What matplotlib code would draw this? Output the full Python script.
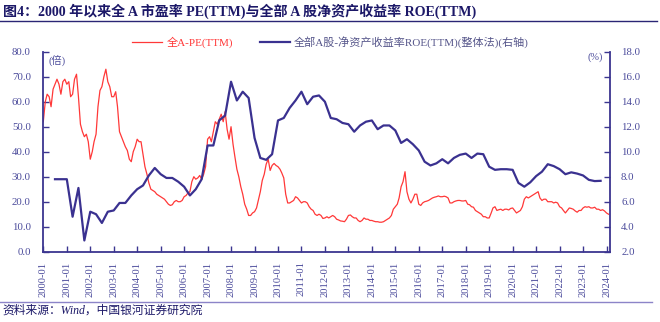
import matplotlib
matplotlib.use('Agg')
import matplotlib.pyplot as plt
import pandas as pd
from matplotlib.lines import Line2D

# ---------------- data ----------------
pe_start = '2000-01'   # monthly values, 全A-PE(TTM)
pe_values = [
    52, 60, 63, 62, 58, 65, 67, 69, 67, 63, 68, 69,            # 2000
    67, 68, 62, 63, 69, 71, 62, 51, 48, 46, 47, 44,            # 2001
    37, 40, 44, 47, 58, 64.5, 66, 70, 73, 68, 66, 62,          # 2002
    62, 64, 58, 48, 46, 44, 42, 40.5, 37, 36, 40, 42,          # 2003
    45, 44, 44, 39, 34, 31, 27.5, 25, 24.5, 24, 23, 22.5,      # 2004
    22, 21.5, 21, 20, 19, 18.5, 18.8, 20, 20.5, 20, 20, 20.5,  # 2005
    22, 22.5, 23.5, 24, 28, 30, 29, 29.5, 30.5, 29, 31, 34,    # 2006
    45, 46, 44, 48, 52, 51, 53, 55, 52, 56, 49, 45,            # 2007
    50, 43, 38, 33, 30, 26, 23, 19, 17, 14.5, 14.5, 15.5,      # 2008
    16, 17.5, 20.5, 24, 28.5, 31, 35, 37, 32.5, 34.5, 35.3, 34.5,  # 2009
    34, 33, 31.5, 29.5, 23, 19.5, 19.5, 20, 20.5, 22, 21.5, 20.5,  # 2010
    19.5, 20, 20, 19.5, 18, 17, 16.5, 15, 14.5, 15, 14.5, 13.3,    # 2011
    13.5, 14, 13.5, 14, 14.5, 14, 13, 12.7, 12.3, 12.2, 12, 13,    # 2012
    14.5, 14.7, 14, 13.5, 13.5, 12.5, 12, 12.5, 13.5, 13, 13, 12.5,  # 2013
    12.5, 12.2, 12, 12, 11.8, 11.8, 12, 12.5, 13, 13.5, 14.5, 17,  # 2014
    18, 19, 21.5, 26, 28, 32, 24, 21, 19.5, 21, 23, 23,            # 2015
    19, 18.5, 19.5, 20, 20.2, 20.5, 21, 21.5, 21.8, 22, 22.3, 22,  # 2016
    22, 22.2, 22, 21.5, 19.5, 19.5, 20, 20.3, 20.5, 20.5, 20.3, 20.3,  # 2017
    20.5, 19, 18.8, 18, 17.8, 16.5, 16, 15.5, 15, 14, 14, 13.5,    # 2018
    13.5, 15.5, 17.5, 18, 16.5, 16.8, 17, 16.5, 17, 17, 16.7, 17.3,  # 2019
    17.5, 16.5, 15.5, 16, 16.5, 18, 21, 22, 21.5, 22, 22.5, 23,    # 2020
    23.5, 24, 21.5, 20.5, 21, 21, 20, 20, 20, 19.5, 19.8, 19.5,    # 2021
    18, 17.5, 16.5, 15.5, 16.5, 17.5, 17.3, 17, 16.3, 15.8, 16.5, 16.5,  # 2022
    17.5, 18, 17.8, 18, 17.5, 17.5, 17.8, 17, 17, 16.5, 16.8, 16.3,  # 2023
    15.5, 15,                                                      # 2024
]

roe_start = '2000Q2'   # quarterly values, ROE(TTM) (%)
roe_values = [
    7.8, 7.8, 7.8,
    4.8, 7.1, 2.9, 5.2,
    5.0, 4.3, 5.2, 5.3,
    5.9, 5.9, 6.5, 7.0,
    7.3, 8.1, 8.7, 8.2,
    7.9, 7.9, 7.6, 7.2,
    6.5, 7.0, 7.8, 10.5,
    10.5, 12.5, 12.9, 15.6,
    14.1, 14.8, 14.3, 11.1,
    9.5, 9.35, 9.8, 12.5,
    12.7, 13.5, 14.1, 14.8,
    13.8, 14.4, 14.5, 14.0,
    12.7, 12.6, 12.3, 12.2,
    11.6, 12.1, 12.4, 12.5,
    11.8, 12.1, 12.1, 11.7,
    10.7, 11.0, 10.6, 10.1,
    9.2, 8.9, 9.07, 9.4,
    9.07, 9.5, 9.75, 9.85,
    9.5, 9.85, 9.8, 8.8,
    8.55, 8.6, 8.6, 8.55,
    7.5, 7.2, 7.55, 8.05,
    8.4, 9.0, 8.85, 8.6,
    8.2, 8.35, 8.25, 8.1,
    7.75, 7.65, 7.67,
]

tick_years = list(range(2000, 2025))
x_tick_labels = [f'{y}-01' for y in tick_years]

title_text = '图4：2000 年以来全 A 市盈率 PE(TTM)与全部 A 股净资产收益率 ROE(TTM)'
pe_label = '全A-PE(TTM)'
roe_label = '全部A股-净资产收益率ROE(TTM)(整体法)(右轴)'
source_text = '资料来源：Wind，中国银河证券研究院'

# ---------------- style ----------------
plt.rcParams['font.family'] = ['Liberation Serif', 'Noto Sans CJK SC']
RED = '#ff3838'
BLUE = '#3a3190'
AXC = '#3b3590'
TXT = '#4b4b9b'
NAVY = '#1c1868'

pe_dates = pd.period_range(pe_start, periods=len(pe_values), freq='M').to_timestamp()
roe_dates = pd.period_range(roe_start, periods=len(roe_values), freq='Q').to_timestamp(how='end')

fig = plt.figure(figsize=(6.6, 3.22), dpi=100)
ax = fig.add_axes([0.0656, 0.2183, 0.8586, 0.6211])
ax2 = ax.twinx()

ax.plot(pe_dates, pe_values, color=RED, lw=0.9, label=pe_label)
ax2.plot(roe_dates, roe_values, color=BLUE, lw=1.6, label=roe_label)

ax.set_ylim(0, 80)
ax.set_yticks(range(0, 81, 10))
ax.set_yticklabels([f'{v:.1f}' for v in range(0, 81, 10)])
ax2.set_ylim(2, 18)
ax2.set_yticks(range(2, 19, 2))
ax2.set_yticklabels([f'{v:.1f}' for v in range(2, 19, 2)])

ax.set_xlim(pd.Timestamp('2000-01-01'), pd.Timestamp('2024-02-24'))
ax.set_xticks([pd.Timestamp(f'{y}-01-01') for y in tick_years])
ax.set_xticklabels(x_tick_labels, rotation=90)

for a in (ax, ax2):
    a.spines['top'].set_visible(False)
    for s in ('left', 'right', 'bottom'):
        a.spines[s].set_color(AXC)
        a.spines[s].set_linewidth(1.3)
ax.spines['right'].set_visible(False)
ax2.spines['left'].set_visible(False)
ax2.spines['bottom'].set_visible(False)

ax.tick_params(axis='x', direction='in', length=4, width=1.0, color=AXC,
               labelcolor=TXT, labelsize=7.6, pad=7)
ax.tick_params(axis='y', direction='in', length=4, width=1.0, color=AXC,
               labelcolor=TXT, labelsize=7.8, pad=9)
ax2.tick_params(axis='y', direction='in', length=4, width=1.0, color=AXC,
                labelcolor=TXT, labelsize=7.8, pad=8)

ax.text(0.009, 0.955, '(倍)', transform=ax.transAxes, ha='left', va='center',
        fontsize=7.5, color=TXT)
ax2.text(0.988, 0.972, '(%)', transform=ax.transAxes, ha='right', va='center',
         fontsize=7.5, color=TXT)

# legend
h1, l1 = ax.get_legend_handles_labels()
h2, l2 = ax2.get_legend_handles_labels()
leg = fig.legend(h1 + h2, l1 + l2, loc='center left', bbox_to_anchor=(0.2, 0.870),
                 ncol=2, frameon=False, fontsize=8, handlelength=2.7,
                 handletextpad=0.4, columnspacing=2.4, borderpad=0, borderaxespad=0)
for txt, c in zip(leg.get_texts(), [RED, '#55558a']):
    txt.set_color(c)

# title, rules and source
fig.text(0.004, 0.966, title_text, fontsize=10.1, fontweight='bold', color=NAVY,
         ha='left', va='center')
fig.add_artist(Line2D([0.0, 0.995], [0.936, 0.936], transform=fig.transFigure,
                      color='#2a2575', lw=1.0))
fig.add_artist(Line2D([0.0, 0.988], [0.063, 0.063], transform=fig.transFigure,
                      color='#8c84c8', lw=1.0))
fig.text(0.004, 0.036, source_text, fontsize=8.5, style='italic', color=NAVY,
         ha='left', va='center')

fig.savefig('out.png', dpi=100)
